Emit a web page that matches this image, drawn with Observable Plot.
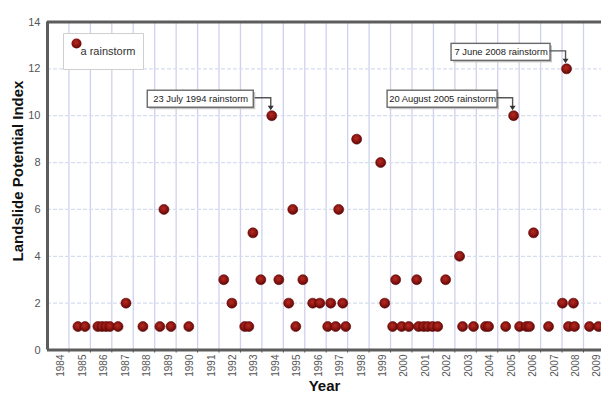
<!DOCTYPE html>
<html><head><meta charset="utf-8">
<script src="https://cdn.jsdelivr.net/npm/d3@7"></script>
<script src="https://cdn.jsdelivr.net/npm/@observablehq/plot@0.6"></script>
<style>body{margin:0;background:#fff;overflow:hidden} svg{display:block}</style>
</head><body><div id="chart"></div>
<script>
// ---- data ----
const eventYear = [
  1985.42, 1985.75, 1986.35, 1986.54, 1986.73, 1986.91, 1987.29, 1987.66, 1988.45, 1989.24,
  1989.43, 1989.76, 1990.59, 1992.22, 1992.60, 1993.20, 1993.39, 1993.58, 1993.95, 1994.46,
  1994.79, 1995.25, 1995.44, 1995.58, 1995.91, 1996.37, 1996.70, 1997.07, 1997.21, 1997.44,
  1997.58, 1997.77, 1997.91, 1998.42, 1999.54, 1999.73, 2000.10, 2000.24, 2000.52, 2000.85,
  2001.22, 2001.31, 2001.54, 2001.73, 2001.96, 2002.20, 2002.57, 2003.22, 2003.36, 2003.87,
  2004.43, 2004.57, 2005.37, 2005.74, 2006.02, 2006.34, 2006.48, 2006.67, 2007.37, 2008.02,
  2008.21, 2008.30, 2008.53, 2008.58, 2009.28, 2009.70
];
const eventIndex = [
  1, 1, 1, 1, 1, 1, 1, 2, 1, 1,
  6, 1, 1, 3, 2, 1, 1, 5, 3, 10,
  3, 2, 6, 1, 3, 2, 2, 1, 2, 1,
  6, 2, 1, 9, 8, 2, 1, 3, 1, 1,
  3, 1, 1, 1, 1, 1, 3, 4, 1, 1,
  1, 1, 1, 10, 1, 1, 1, 5, 1, 2,
  12, 1, 2, 1, 1, 1
];
const yearLabels = d3.range(1984, 2010);
const yTickValues = [0, 2, 4, 6, 8, 10, 12, 14];
const annoYear = [1994.46, 2005.74, 2008.21];
const annoIndex = [10, 10, 12];
const annoText = ["23 July 1994 rainstorm", "20 August 2005 rainstorm", "7 June 2008 rainstorm"];
const legendText = "a rainstorm";
const xTitle = "Year";
const yTitle = "Landslide Potential Index";

// ---- tables ----
const events = eventYear.map((y, i) => ({year: y, index: eventIndex[i]}));
const annos = annoYear.map((y, i) => ({year: y, index: annoIndex[i], text: annoText[i]}));

// ---- styles ----
const font = "'Liberation Sans', Arial, sans-serif";
const dotFill = "url(#dotGrad)";
const boxGeom = [{l: -124, r: 18}, {l: -126, r: 16}, {l: -115, r: 16}];

const elbow = {draw(ctx) { ctx.moveTo(-17, -18); ctx.lineTo(-1, -18); ctx.lineTo(-1, -9); }};
const arrowHead = {draw(ctx) { ctx.moveTo(-4, -10); ctx.lineTo(2, -10); ctx.lineTo(-1, -5.5); ctx.closePath(); }};
const legendBox = {draw(ctx) { ctx.rect(16, 11.5, 80, 36); }};

const annoMarks = annos.flatMap((a, i) => {
  const g = boxGeom[i];
  return [
    Plot.rect([a], {x1: "year", x2: "year", y1: "index", y2: "index",
      insetLeft: g.l, insetRight: g.r, insetTop: -25, insetBottom: 8,
      dx: 2, dy: 2, fill: "#c4c4c4"}),
    Plot.rect([a], {x1: "year", x2: "year", y1: "index", y2: "index",
      insetLeft: g.l, insetRight: g.r, insetTop: -25, insetBottom: 8,
      fill: "white", stroke: "#6a6a6a", strokeWidth: 1.4}),
    Plot.text([a], {x: "year", y: "index", text: "text", dx: (g.l - g.r) / 2, dy: -16.5,
      fontSize: 9.4, fill: "#222"})
  ];
});

const plot = Plot.plot({
  width: 601,
  height: 394,
  marginLeft: 47,
  marginRight: 0,
  marginTop: 21.5,
  marginBottom: 44.5,
  style: {fontFamily: font, background: "white", overflow: "hidden"},
  x: {domain: [1984, 2009.84], axis: null},
  y: {domain: [0, 14], axis: null},
  marks: [
    // grid
    Plot.ruleX(yearLabels.slice(1), {stroke: "#cfd2ee", strokeWidth: 1.3}),
    Plot.ruleY(yTickValues.slice(1, -1), {stroke: "#d6ddef", strokeWidth: 1.2, strokeDasharray: "4,2"}),
    // axes
    Plot.axisY(yTickValues, {anchor: "left", tickSize: 0, tickPadding: 7, fontSize: 11, color: "#555", label: null}),
    Plot.axisX(yearLabels.slice(1), {anchor: "bottom", tickSize: 3, tickFormat: () => "", stroke: "#444", label: null}),
    Plot.text(yearLabels, {x: d => d + 0.5, frameAnchor: "bottom", text: d => String(d),
      rotate: -90, textAnchor: "end", lineAnchor: "middle", dx: 3, dy: 4.5, fontSize: 10, fill: "#555"}),
    // frame
    Plot.ruleX([1984], {stroke: "#5c5c5c", strokeWidth: 3}),
    Plot.ruleY([0, 14], {stroke: "#5c5c5c", strokeWidth: 3}),
    // titles
    Plot.text([xTitle], {frameAnchor: "bottom", dy: 30, textAnchor: "middle", lineAnchor: "top",
      fontSize: 15, fontWeight: "bold", fill: "#111"}),
    Plot.text([yTitle], {frameAnchor: "left", dx: -29, dy: -15, rotate: -90, textAnchor: "middle", lineAnchor: "middle",
      fontSize: 15, fontWeight: "bold", fill: "#111"}),
    // legend
    Plot.dot([legendText], {frameAnchor: "top-left", symbol: legendBox, fill: "white", stroke: "#cfcfcf", strokeWidth: 1}),
    Plot.dot([legendText], {frameAnchor: "top-left", dx: 29, dy: 21.5, r: 5, fill: dotFill}),
    Plot.text([legendText], {frameAnchor: "top-left", dx: 33, dy: 29, textAnchor: "start", lineAnchor: "middle",
      fontSize: 11, fill: "#333"}),
    // annotations
    ...annoMarks,
    Plot.dot(annos, {x: "year", y: "index", symbol: elbow, fill: "none", stroke: "#555", strokeWidth: 1.4}),
    Plot.dot(annos, {x: "year", y: "index", symbol: arrowHead, fill: "#333", stroke: "none"}),
    // events
    Plot.dot(events, {x: "year", y: "index", r: 5, fill: dotFill, stroke: "#5a0606", strokeWidth: 0.6})
  ]
});

const defs = d3.select(plot).insert("defs", ":first-child");
const grad = defs.append("radialGradient").attr("id", "dotGrad").attr("cx", "45%").attr("cy", "40%").attr("r", "60%");
grad.append("stop").attr("offset", "0%").attr("stop-color", "#b52a22");
grad.append("stop").attr("offset", "60%").attr("stop-color", "#8a1410");
grad.append("stop").attr("offset", "100%").attr("stop-color", "#5e0707");

document.getElementById("chart").append(plot);
</script>
</body></html>
